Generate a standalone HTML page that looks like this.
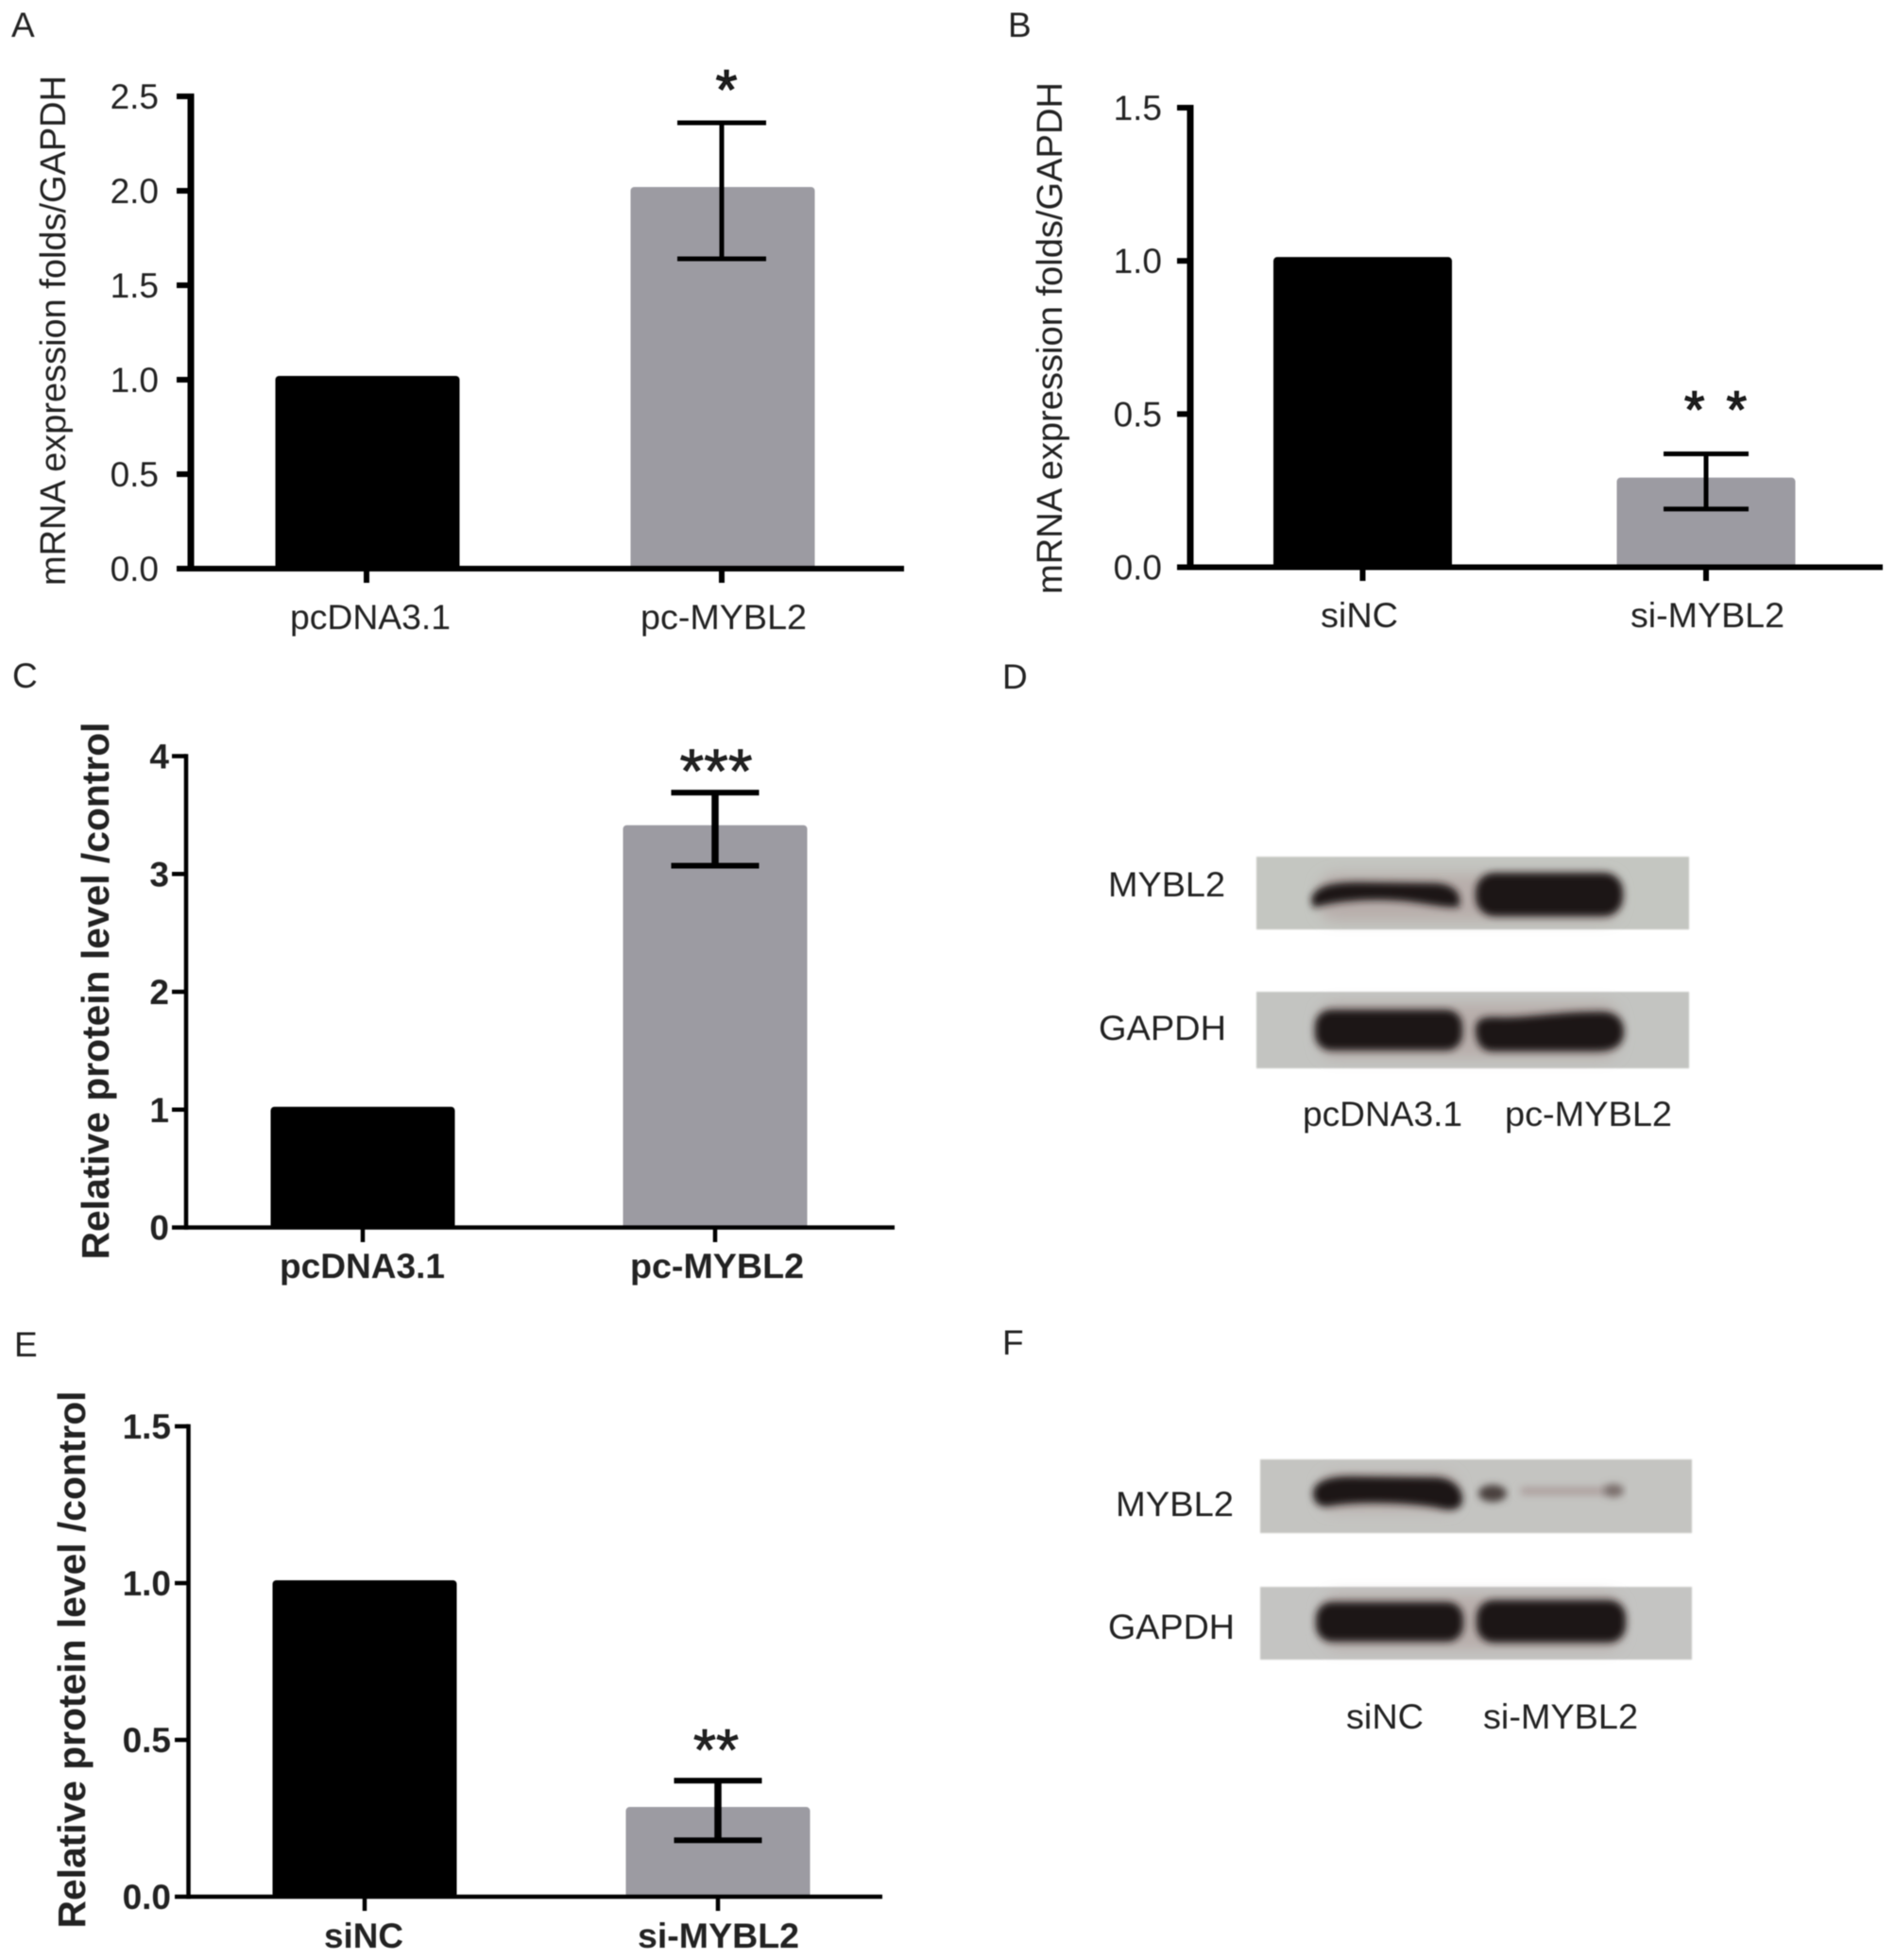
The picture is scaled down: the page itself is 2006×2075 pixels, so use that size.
<!DOCTYPE html>
<html lang="en">
<head>
<meta charset="utf-8">
<title>MYBL2 expression figure</title>
<style>
html,body{margin:0;padding:0;background:#fff;}
svg{display:block;position:absolute;left:0;top:0;filter:blur(0.6px);}
text{font-family:"Liberation Sans",Arial,sans-serif;fill:#222;}
</style>
</head>
<body>
<svg id="figure" xmlns="http://www.w3.org/2000/svg" width="2006" height="2075" viewBox="0 0 2006 2075">
  <defs>
    <filter id="soft" x="-20%" y="-80%" width="140%" height="260%"><feGaussianBlur stdDeviation="4"/></filter>
    <filter id="softer" x="-20%" y="-150%" width="140%" height="400%"><feGaussianBlur stdDeviation="7"/></filter>
    <filter id="edge" x="-2%" y="-5%" width="104%" height="110%"><feGaussianBlur stdDeviation="0.8"/></filter>
  </defs>
  <rect width="2006" height="2075" fill="#fff"/>

  <g font-size="37">
    <text x="12" y="39">A</text>
    <text x="1067" y="39">B</text>
    <text x="13" y="728">C</text>
    <text x="1061" y="729">D</text>
    <text x="15" y="1436">E</text>
    <text x="1061" y="1434">F</text>
  </g>

  <g>
    <g>
      <rect x="1330" y="907" width="458" height="77" fill="#c4c6c1" filter="url(#edge)"/>
      <rect x="1395" y="925" width="320" height="50" rx="20" fill="#b8aeab" filter="url(#softer)"/>
      <path d="M1388 951 C1394 937 1410 934 1440 934 L1520 935 C1537 936 1545 944 1545 952 L1545 960 C1525 962 1505 954 1470 953 C1440 952 1410 955 1390 961 Z" fill="#1f1513" filter="url(#soft)"/>
      <rect x="1562" y="924" width="156" height="46" rx="20" fill="#1f1515" filter="url(#soft)"/>
    </g>
    <g>
      <rect x="1330" y="1050" width="458" height="81" fill="#c3c4c1" filter="url(#edge)"/>
      <rect x="1395" y="1062" width="320" height="58" rx="20" fill="#b8aeab" filter="url(#softer)"/>
      <rect x="1392" y="1069" width="156" height="43" rx="17" fill="#1f1515" filter="url(#soft)"/>
      <path d="M1562 1090 C1562 1077 1572 1076 1590 1077 C1620 1077 1650 1071 1695 1071 C1713 1071 1719 1082 1719 1092 C1719 1107 1708 1113 1690 1113 L1580 1113 C1567 1113 1562 1102 1562 1090 Z" fill="#1f1515" filter="url(#soft)"/>
    </g>
    <text x="1173" y="949" font-size="37" textLength="124" lengthAdjust="spacingAndGlyphs">MYBL2</text>
    <text x="1163" y="1101" font-size="37" textLength="135" lengthAdjust="spacingAndGlyphs">GAPDH</text>
    <text x="1379" y="1192" font-size="37" textLength="169" lengthAdjust="spacingAndGlyphs">pcDNA3.1</text>
    <text x="1593" y="1192" font-size="37" textLength="177" lengthAdjust="spacingAndGlyphs">pc-MYBL2</text>
  </g>

  <g>
    <g>
      <rect x="1334" y="1545" width="457" height="78" fill="#c4c4c1" filter="url(#edge)"/>
      <rect x="1398" y="1560" width="145" height="40" rx="15" fill="#b8aeab" filter="url(#softer)"/>
      <path d="M1390 1581 C1390 1569 1405 1563 1430 1563 L1520 1564 C1539 1565 1548 1576 1548 1587 C1548 1598 1538 1600 1525 1597 C1500 1591 1440 1589 1410 1594 C1397 1597 1390 1591 1390 1581 Z" fill="#1f1515" filter="url(#soft)"/>
      <ellipse cx="1580" cy="1581" rx="15" ry="9" fill="#4a3f3d" filter="url(#soft)"/>
      <rect x="1610" y="1574" width="90" height="9" fill="#aea2a0" filter="url(#soft)"/>
      <ellipse cx="1708" cy="1578" rx="11" ry="7" fill="#7a6e6c" filter="url(#soft)"/>
    </g>
    <g>
      <rect x="1334" y="1680" width="457" height="77" fill="#c4c4c2" filter="url(#edge)"/>
      <rect x="1398" y="1688" width="320" height="58" rx="20" fill="#b8aeab" filter="url(#softer)"/>
      <rect x="1393" y="1696" width="156" height="42" rx="17" fill="#1f1515" filter="url(#soft)"/>
      <rect x="1563" y="1694" width="158" height="45" rx="18" fill="#1f1515" filter="url(#soft)"/>
    </g>
    <text x="1181" y="1605" font-size="37" textLength="125" lengthAdjust="spacingAndGlyphs">MYBL2</text>
    <text x="1173" y="1735" font-size="37" textLength="134" lengthAdjust="spacingAndGlyphs">GAPDH</text>
    <text x="1425" y="1830" font-size="37" textLength="82" lengthAdjust="spacingAndGlyphs">siNC</text>
    <text x="1570" y="1830" font-size="37" textLength="164" lengthAdjust="spacingAndGlyphs">si-MYBL2</text>
  </g>
</svg>

<script>
// Panel A data
const panelACategories = ['pcDNA3.1', 'pc-MYBL2'];
const panelAValues = [1.0, 2.0];
const panelAErrorUpper = [null, 2.36];
const panelAErrorLower = [null, 1.64];
const panelATicks = [0, 0.5, 1.0, 1.5, 2.0, 2.5];
const panelATickLabels = ['0.0', '0.5', '1.0', '1.5', '2.0', '2.5'];

// Panel B data
const panelBCategories = ['siNC', 'si-MYBL2'];
const panelBValues = [1.0, 0.28];
const panelBErrorUpper = [null, 0.37];
const panelBErrorLower = [null, 0.19];
const panelBTicks = [0, 0.5, 1.0, 1.5];
const panelBTickLabels = ['0.0', '0.5', '1.0', '1.5'];

// Panel C data
const panelCCategories = ['pcDNA3.1', 'pc-MYBL2'];
const panelCValues = [1.0, 3.39];
const panelCErrorUpper = [null, 3.69];
const panelCErrorLower = [null, 3.07];
const panelCTicks = [0, 1, 2, 3, 4];
const panelCTickLabels = ['0', '1', '2', '3', '4'];

// Panel E data
const panelECategories = ['siNC', 'si-MYBL2'];
const panelEValues = [1.0, 0.277];
const panelEErrorUpper = [null, 0.37];
const panelEErrorLower = [null, 0.18];
const panelETicks = [0, 0.5, 1.0, 1.5];
const panelETickLabels = ['0.0', '0.5', '1.0', '1.5'];

const SVGNS = 'http://www.w3.org/2000/svg';
const figure = document.getElementById('figure');

function make(tag, attrs, parent, content) {
  const el = document.createElementNS(SVGNS, tag);
  for (const key in attrs) el.setAttribute(key, attrs[key]);
  if (content !== undefined) el.textContent = content;
  parent.appendChild(el);
  return el;
}

function drawPanel(p, d) {
  const g = make('g', {}, figure);
  
  

  const yMax = d.ticks[d.ticks.length - 1];
  const yScale = v => p.y0 + (p.yTop - p.y0) * (v / yMax);
  const xScale = i => p.cat0 + i * p.catStep;
  const weight = p.bold ? 'bold' : 'normal';

  d.categories.forEach((cat, i) => {
    const cx = xScale(i) + p.barShift;
    const top = yScale(d.values[i]) - p.barPad;
    const bar = make('rect', {
      x: cx - p.barW / 2, y: top, width: p.barW, height: p.y0 - top + 1,
      rx: 4, fill: i === 0 ? '#000' : '#9c9ba2'
    }, g);
    
    
  });

  const yAxis = make('line', {
    x1: p.axisX, x2: p.axisX, y1: p.yTop - p.tickW / 2, y2: p.y0 + p.xAxisW / 2,
    stroke: '#000', 'stroke-width': p.axisW
  }, g);
  
  

  const xAxis = make('line', {
    x1: p.tickLeft, x2: p.xEnd, y1: p.y0, y2: p.y0,
    stroke: '#000', 'stroke-width': p.xAxisW
  }, g);
  
  

  d.ticks.forEach((t, i) => {
    const ty = yScale(t);
    if (t !== 0) {
      const tick = make('line', {
        x1: p.tickLeft, x2: p.axisX, y1: ty, y2: ty,
        stroke: '#000', 'stroke-width': p.tickW
      }, g);
      
      
    }
    const label = make('text', {
      x: p.tickTextRight, y: ty + 13, 'text-anchor': 'end',
      'font-size': p.tickFont, 'font-weight': weight
    }, g, d.tickLabels[i]);
    
    
  });

  d.categories.forEach((cat, i) => {
    const tick = make('line', {
      x1: xScale(i), x2: xScale(i), y1: p.y0, y2: p.xTickEnd,
      stroke: '#000', 'stroke-width': p.xTickW
    }, g);
    
    

    const label = make('text', {
      x: p.labelX[i], y: p.labelY, 'font-size': p.labelFont, 'font-weight': weight,
      textLength: p.labelW[i], lengthAdjust: 'spacingAndGlyphs'
    }, g, cat);
    
    

    if (d.errorUpper[i] !== null) {
      const hi = yScale(d.errorUpper[i]);
      const lo = yScale(d.errorLower[i]);
      const ex = xScale(i);
      const stem = make('line', {
        x1: ex, x2: ex, y1: hi, y2: lo, stroke: '#000', 'stroke-width': p.errStem
      }, g);
      
      
      [hi, lo].forEach(capY => {
        const cap = make('line', {
          x1: ex - p.capHalf, x2: ex + p.capHalf, y1: capY, y2: capY,
          stroke: '#000', 'stroke-width': p.errCap
        }, g);
        
        
      });
    }
  });

  const title = make('text', {
    transform: 'translate(' + p.titleX + ',' + p.titleMid + ') rotate(-90)',
    x: 0, y: 0, 'text-anchor': 'middle', 'font-size': p.titleFont, 'font-weight': weight,
    textLength: p.titleLen, lengthAdjust: 'spacingAndGlyphs'
  }, g, p.title);
  
  

  const star = make('text', {
    x: p.starX, y: p.starY, 'text-anchor': 'middle', 'font-size': p.starFont,
    'letter-spacing': p.starSpacing, stroke: '#111', 'stroke-width': p.starStroke
  }, g, p.star);
  
  
}

drawPanel({
  id: 'a', y0: 602, yTop: 102, cat0: 388, catStep: 376, barW: 195, barShift: 1, barPad: 4,
  axisX: 202, axisW: 7, xAxisW: 6, tickLeft: 187, tickW: 6, xEnd: 957, xTickEnd: 617, xTickW: 6,
  tickTextRight: 168, tickFont: 37, labelFont: 37, labelX: [307, 678], labelW: [170, 176], labelY: 666,
  errStem: 5, errCap: 5, capHalf: 47, title: 'mRNA expression folds/GAPDH',
  titleX: 69, titleMid: 350, titleFont: 38, titleLen: 540,
  star: '*', starX: 769, starY: 115, starFont: 58, starSpacing: 0, starStroke: 1.4, bold: false
}, {
  categories: panelACategories, values: panelAValues, errorUpper: panelAErrorUpper,
  errorLower: panelAErrorLower, ticks: panelATicks, tickLabels: panelATickLabels
});

drawPanel({
  id: 'b', y0: 600.5, yTop: 114, cat0: 1442.5, catStep: 363.5, barW: 189, barShift: 0, barPad: 4,
  axisX: 1260, axisW: 7, xAxisW: 6, tickLeft: 1246, tickW: 6, xEnd: 1993, xTickEnd: 615, xTickW: 6,
  tickTextRight: 1230, tickFont: 37, labelFont: 37, labelX: [1398, 1726], labelW: [82, 163], labelY: 664,
  errStem: 5, errCap: 5, capHalf: 45, title: 'mRNA expression folds/GAPDH',
  titleX: 1124, titleMid: 358, titleFont: 38, titleLen: 542,
  star: '* *', starX: 1818, starY: 452, starFont: 55, starSpacing: 4, starStroke: 1.4, bold: false
}, {
  categories: panelBCategories, values: panelBValues, errorUpper: panelBErrorUpper,
  errorLower: panelBErrorLower, ticks: panelBTicks, tickLabels: panelBTickLabels
});

drawPanel({
  id: 'c', y0: 1299.5, yTop: 800.5, cat0: 384, catStep: 373, barW: 195, barShift: 0, barPad: 3,
  axisX: 197, axisW: 4.5, xAxisW: 4.5, tickLeft: 182, tickW: 4.5, xEnd: 947, xTickEnd: 1315, xTickW: 4.5,
  tickTextRight: 179, tickFont: 37, labelFont: 37, labelX: [296, 667], labelW: [175, 184], labelY: 1353,
  errStem: 7.5, errCap: 6, capHalf: 46.5, title: 'Relative protein level /control',
  titleX: 115, titleMid: 1049, titleFont: 41, titleLen: 569,
  star: '***', starX: 758, starY: 839, starFont: 66, starSpacing: 0, starStroke: 0.8, bold: true
}, {
  categories: panelCCategories, values: panelCValues, errorUpper: panelCErrorUpper,
  errorLower: panelCErrorLower, ticks: panelCTicks, tickLabels: panelCTickLabels
});

drawPanel({
  id: 'e', y0: 2008, yTop: 1510, cat0: 386, catStep: 374, barW: 195, barShift: 0, barPad: 3,
  axisX: 199.5, axisW: 4.5, xAxisW: 4.5, tickLeft: 185, tickW: 4.5, xEnd: 934, xTickEnd: 2023, xTickW: 4.5,
  tickTextRight: 181, tickFont: 37, labelFont: 37, labelX: [343, 675], labelW: [84, 171], labelY: 2062,
  errStem: 7.5, errCap: 6, capHalf: 46.5, title: 'Relative protein level /control',
  titleX: 90, titleMid: 1757, titleFont: 41, titleLen: 569,
  star: '**', starX: 758, starY: 1874, starFont: 62, starSpacing: 0, starStroke: 0.8, bold: true
}, {
  categories: panelECategories, values: panelEValues, errorUpper: panelEErrorUpper,
  errorLower: panelEErrorLower, ticks: panelETicks, tickLabels: panelETickLabels
});
</script>
</body>
</html>
